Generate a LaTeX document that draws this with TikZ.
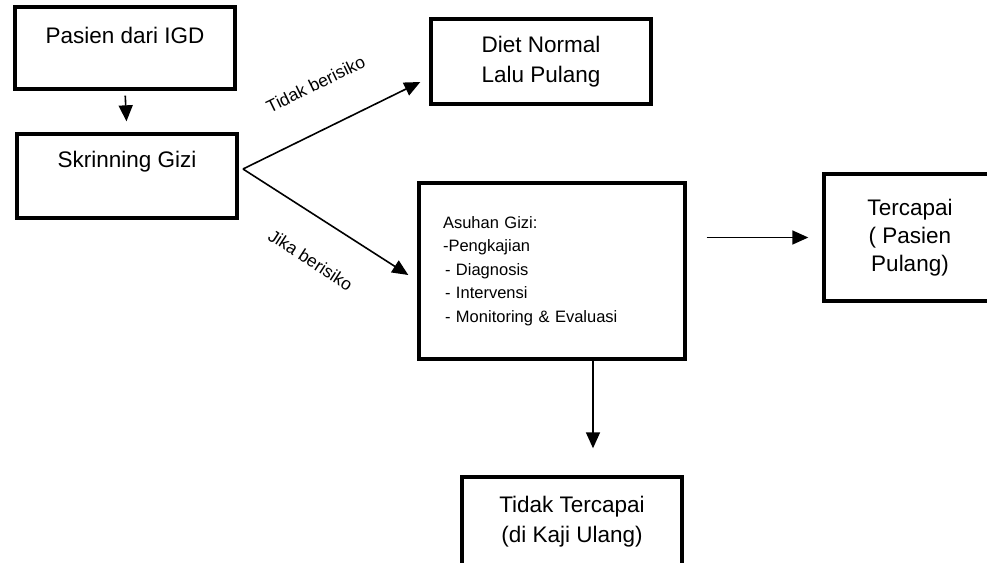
\documentclass[tikz,border=0pt]{standalone}
\usepackage{fontspec}
\setmainfont{Liberation Sans}
\usetikzlibrary{arrows.meta}

\begin{document}
\begin{tikzpicture}[x=1pt, y=-1pt,
  box/.style={rectangle, draw, line width=3.4pt, align=center, inner sep=0pt,
    font=\fontsize{22.5}{30}\selectfont},
  listbox/.style={box, align=left, inner xsep=24pt, text width=218pt,
    font=\fontsize{16.5}{23.5}\selectfont},
  arr/.style={-{Triangle[length=16pt,width=14pt]}, line width=1.6pt},
  lbl/.style={font=\fontsize{17.5}{20}\selectfont, inner sep=0pt}
]
\useasboundingbox (0,0) rectangle (987,562);
% boxes
\node[box, minimum width=220pt, minimum height=82pt] (pasien) at (125,48) {Pasien dari IGD\\[-14pt]\strut};
\node[box, minimum width=220pt, minimum height=84pt] (skrining) at (127,176) {Skrinning Gizi\\[-6pt]\strut};
\node[box, minimum width=220pt, minimum height=85pt] (diet) at (541,61.5) {Diet Normal\\Lalu Pulang};
\node[listbox, minimum height=176pt] (asuhan) at (552,271) {Asuhan Gizi:\\-Pengkajian\\\hspace{2pt}- Diagnosis\\\hspace{2pt}- Intervensi\\\hspace{2pt}- Monitoring \& Evaluasi};
\node[box, minimum width=172pt, minimum height=127pt, font=\fontsize{22.5}{28}\selectfont] (tercapai) at (910,237.5) {Tercapai\\( Pasien\\Pulang)};
\node[box, minimum width=220pt, minimum height=90pt] (gagal) at (572,522) {Tidak Tercapai\\(di Kaji Ulang)};
\coordinate (split) at (243,169);
% connectors
\draw[arr, shorten <=5pt, shorten >=11pt] (pasien.south) -- (skrining.north);
\draw[arr] (split) -- ([xshift=-9pt, yshift=-20.5pt]diet.west);
\draw[arr] (split) -- ([xshift=-9pt, yshift=-4pt]asuhan.west);
\draw[arr, shorten <=20pt, shorten >=14pt] (asuhan.east |- tercapai.west) -- (tercapai.west);
\draw[arr, shorten >=27pt] ([xshift=41pt]asuhan.south) -- ([xshift=41pt]asuhan.south |- gagal.north);
% labels
\node[lbl, rotate=26] (tidak) at (315.7,84) {Tidak berisiko};
\node[lbl, rotate=-33] (jika) at (310.7,260) {Jika berisiko};
\end{tikzpicture}
\end{document}
